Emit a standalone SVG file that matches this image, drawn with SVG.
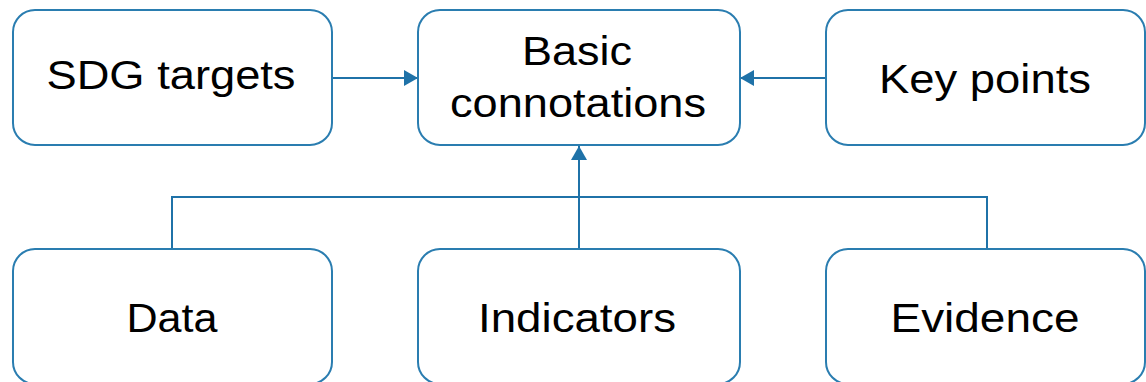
<svg xmlns="http://www.w3.org/2000/svg" width="1146" height="382" viewBox="0 0 1146 382">
  <defs>
    <style>
      .box { fill: #ffffff; stroke: #2a7db0; stroke-width: 2; }
      .lbl { font-family: "Liberation Sans", Arial, sans-serif; font-size: 40px; fill: #000000; text-anchor: middle; }
      .wire { fill: none; stroke: #1f72a8; stroke-width: 2; }
    </style>
    <marker id="head" viewBox="0 0 14 16" refX="14" refY="8" markerWidth="14" markerHeight="16" markerUnits="userSpaceOnUse" orient="auto">
      <path d="M0,0 L14,8 L0,16 Z" fill="#1f72a8"/>
    </marker>
  </defs>
  <rect width="1146" height="382" fill="#ffffff"/>

  <!-- connectors -->
  <g id="connectors">
    <line class="wire" x1="332" y1="78" x2="418" y2="78" marker-end="url(#head)"/>
    <line class="wire" x1="826" y1="78" x2="740" y2="78" marker-end="url(#head)"/>
    <line class="wire" x1="579" y1="249" x2="579" y2="146" marker-end="url(#head)"/>
    <polyline class="wire" points="172,249 172,197 987,197 987,249"/>
  </g>

  <g id="sdg-targets">
    <rect class="box" x="13" y="10" width="319" height="135" rx="22"/>
    <text class="lbl" x="171" y="89" textLength="249" lengthAdjust="spacingAndGlyphs">SDG targets</text>
  </g>

  <g id="basic-connotations">
    <rect class="box" x="418" y="10" width="322" height="135" rx="22"/>
    <text class="lbl" x="577" y="65" textLength="110" lengthAdjust="spacingAndGlyphs">Basic</text>
    <text class="lbl" x="578" y="117" textLength="256" lengthAdjust="spacingAndGlyphs">connotations</text>
  </g>

  <g id="key-points">
    <rect class="box" x="826" y="10" width="319" height="135" rx="22"/>
    <text class="lbl" x="985" y="93" textLength="212" lengthAdjust="spacingAndGlyphs">Key points</text>
  </g>

  <g id="data">
    <rect class="box" x="13" y="249" width="319" height="135" rx="22"/>
    <text class="lbl" x="172" y="332" textLength="91" lengthAdjust="spacingAndGlyphs">Data</text>
  </g>

  <g id="indicators">
    <rect class="box" x="418" y="249" width="322" height="135" rx="22"/>
    <text class="lbl" x="577" y="332" textLength="198" lengthAdjust="spacingAndGlyphs">Indicators</text>
  </g>

  <g id="evidence">
    <rect class="box" x="826" y="249" width="319" height="135" rx="22"/>
    <text class="lbl" x="985" y="332" textLength="189" lengthAdjust="spacingAndGlyphs">Evidence</text>
  </g>
</svg>
